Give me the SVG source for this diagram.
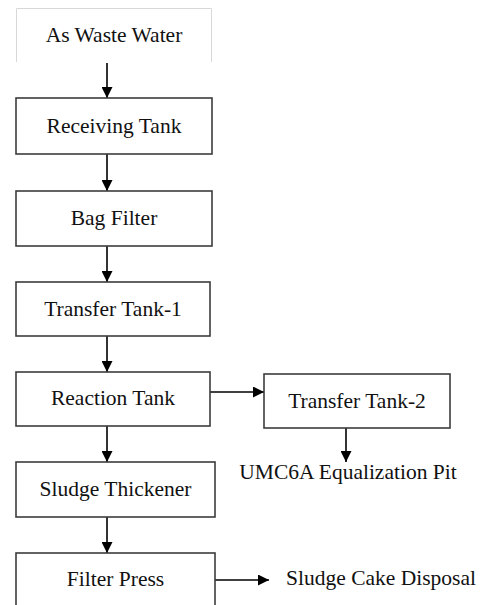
<svg xmlns="http://www.w3.org/2000/svg" width="485" height="605" viewBox="0 0 485 605">
  <style>
    .box { fill: #ffffff; stroke: #3c3c3c; stroke-width: 1.6; }
    .src { fill: none; stroke: #d8d8d8; stroke-width: 1; }
    .flow { stroke: #000000; stroke-width: 1.6; fill: none; marker-end: url(#arrow); }
    text { font-family: "Liberation Serif", "Times New Roman", Times, Tinos, "Noto Serif", "DejaVu Serif", FreeSerif, serif; font-size: 21.5px; fill: #111111; text-anchor: middle; }
  </style>
  <defs>
    <marker id="arrow" viewBox="0 0 10 10" refX="10" refY="5" markerUnits="userSpaceOnUse" markerWidth="12" markerHeight="11" orient="auto">
      <path d="M0,0 L10,5 L0,10 Z" fill="#000000"/>
    </marker>
  </defs>
  <rect width="485" height="605" fill="#ffffff"/>

  <!-- flow connectors -->
  <g id="connectors">
    <line class="flow" x1="107" y1="63" x2="107" y2="98"/>
    <line class="flow" x1="107" y1="154" x2="107" y2="191"/>
    <line class="flow" x1="107" y1="246" x2="107" y2="282"/>
    <line class="flow" x1="107" y1="336" x2="107" y2="372"/>
    <line class="flow" x1="107" y1="426" x2="107" y2="462"/>
    <line class="flow" x1="107" y1="517" x2="107" y2="553"/>
    <line class="flow" x1="210" y1="392" x2="264" y2="392"/>
    <line class="flow" x1="346" y1="428" x2="346" y2="462"/>
    <line class="flow" x1="215" y1="580" x2="269" y2="580"/>
  </g>

  <!-- source: open frame without bottom edge -->
  <g id="node-source">
    <path class="src" d="M16.5,62 V8.5 H211.5 V62"/>
    <text x="114" y="42">As Waste Water</text>
  </g>

  <g id="node-receiving">
    <rect class="box" x="16" y="98" width="196" height="56"/>
    <text x="114" y="133">Receiving Tank</text>
  </g>

  <g id="node-bag-filter">
    <rect class="box" x="16" y="191" width="196" height="55"/>
    <text x="114" y="225">Bag Filter</text>
  </g>

  <g id="node-transfer-1">
    <rect class="box" x="16" y="282" width="194" height="54"/>
    <text x="113" y="316">Transfer Tank-1</text>
  </g>

  <g id="node-reaction">
    <rect class="box" x="16" y="372" width="194" height="54"/>
    <text x="113" y="405">Reaction Tank</text>
  </g>

  <g id="node-transfer-2">
    <rect class="box" x="264" y="374" width="186" height="54"/>
    <text x="357" y="408">Transfer Tank-2</text>
  </g>

  <g id="node-equalization">
    <text x="348" y="479">UMC6A Equalization Pit</text>
  </g>

  <g id="node-thickener">
    <rect class="box" x="16" y="462" width="199" height="55"/>
    <text x="115.5" y="496">Sludge Thickener</text>
  </g>

  <g id="node-filter-press">
    <rect class="box" x="16" y="553" width="199" height="70"/>
    <text x="115.5" y="586">Filter Press</text>
  </g>

  <g id="node-disposal">
    <text x="381" y="585">Sludge Cake Disposal</text>
  </g>
</svg>
